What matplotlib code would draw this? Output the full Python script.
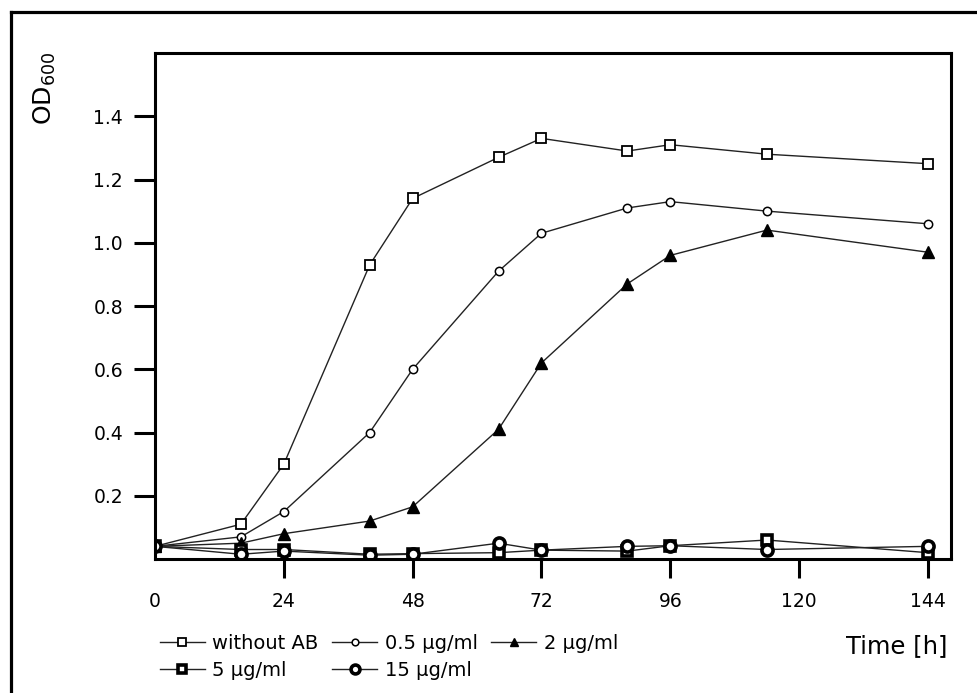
import numpy as np
from matplotlib import pyplot as plt
from matplotlib.lines import Line2D

# sampling times [h]
time = [0, 16, 24, 40, 48, 64, 72, 88, 96, 114, 144]

od_no_ab = [0.04, 0.11, 0.30, 0.93, 1.14, 1.27, 1.33, 1.29, 1.31, 1.28, 1.25]
od_05 = [0.04, 0.07, 0.15, 0.40, 0.60, 0.91, 1.03, 1.11, 1.13, 1.10, 1.06]
od_2 = [0.04, 0.05, 0.08, 0.12, 0.165, 0.41, 0.62, 0.87, 0.96, 1.04, 0.97]
od_5 = [0.04, 0.03, 0.03, 0.015, 0.017, 0.02, 0.028, 0.025, 0.042, 0.06, 0.02]
od_15 = [0.04, 0.015, 0.025, 0.012, 0.015, 0.05, 0.028, 0.04, 0.042, 0.03, 0.04]

x_ticks = [0, 24, 48, 72, 96, 120, 144]
y_ticks = [0.2, 0.4, 0.6, 0.8, 1.0, 1.2, 1.4]

fig = plt.figure(figsize=(9.77, 6.93), dpi=100)
ax = fig.add_axes([155 / 977, 1 - 559 / 693, 796 / 977, 506 / 693])

lc = '#222222'
l1, = ax.plot(time, od_no_ab, color=lc, lw=1, marker='s', ms=7, mfc='white', mec='black', mew=1.3)
l2, = ax.plot(time, od_05, color=lc, lw=1, marker='o', ms=6, mfc='white', mec='black', mew=1.1)
l3, = ax.plot(time, od_2, color=lc, lw=1, marker='^', ms=8, mfc='black', mec='black')
l4, = ax.plot(time, od_5, color=lc, lw=1, marker='s', ms=7.5, mfc='white', mec='black', mew=2.6)
l5, = ax.plot(time, od_15, color=lc, lw=1, marker='o', ms=8, mfc='white', mec='black', mew=2.6)

ax.set_xlim(0, 148.3)
ax.set_ylim(0, 1.6)
ax.set_xticks(x_ticks)
ax.set_yticks(y_ticks)
ax.set_yticklabels(['%.1f' % v for v in y_ticks])
for s in ax.spines.values():
    s.set_linewidth(2.2)
ax.tick_params(axis='both', direction='out', width=2.2, labelsize=13.5, colors='black')
ax.tick_params(axis='x', length=14, pad=10)
ax.tick_params(axis='y', length=15, pad=8)
ax.xaxis.get_major_ticks()[0].tick1line.set_visible(False)

fig.text(45 / 977, 1 - 88 / 693, r'OD$_{600}$', rotation=90, ha='center', va='center', fontsize=18)
fig.text(947 / 977, 1 - 646 / 693, 'Time [h]', ha='right', va='center', fontsize=17.5)

# legend filled column by column, so order gives two rows
fig.legend([l1, l4, l2, l5, l3],
           ['without AB', '5 µg/ml', '0.5 µg/ml', '15 µg/ml', '2 µg/ml'],
           ncol=3, loc='upper left', bbox_to_anchor=(160 / 977, 1 - 634 / 693),
           frameon=False, fontsize=14, handlelength=2.3, handletextpad=0.4,
           columnspacing=0.7, labelspacing=0.42, borderpad=0, borderaxespad=0,
           markerscale=0.8)

# outer frame of the figure
fig.add_artist(Line2D([11 / 977, 11 / 977], [0, 1 - 12 / 693], color='black', lw=2.3))
fig.add_artist(Line2D([11 / 977, 1], [1 - 12 / 693, 1 - 12 / 693], color='black', lw=2.3))

fig.savefig('out.png', dpi=100)
